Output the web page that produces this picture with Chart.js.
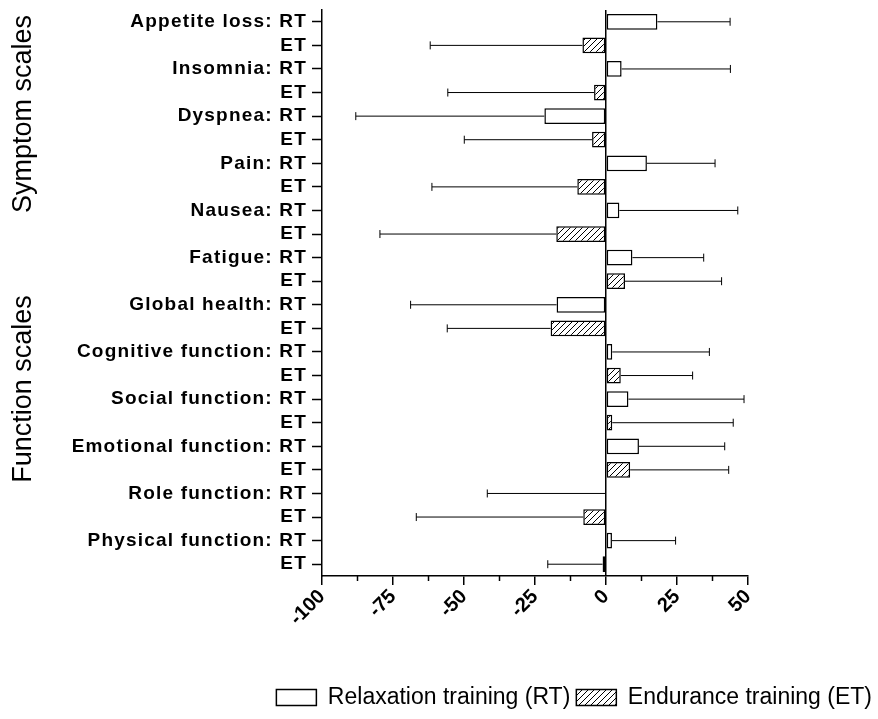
<!DOCTYPE html>
<html>
<head>
<meta charset="utf-8">
<script src="https://cdn.jsdelivr.net/npm/chart.js@4"></script>
<style>
  html, body { margin: 0; padding: 0; background: #fff; }
  #wrap { width: 878px; height: 719px; }
</style>
</head>
<body>
<div id="wrap"><canvas id="myChart" width="878" height="719"></canvas></div>
<script>
// QLQ-C30 scales, top to bottom
const scaleNames = ["Appetite loss", "Insomnia", "Dyspnea", "Pain", "Nausea", "Fatigue",
  "Global health", "Cognitive function", "Social function", "Emotional function",
  "Role function", "Physical function"];

// mean change and SD per scale
const rtMean = [18.1, 5.5, -21.7, 14.4, 4.7, 9.3, -17.4, 2.2, 7.9, 11.6, -0.3, 2.1];
const rtSD   = [25.6, 38.3, 66.4, 24.0, 41.7, 25.1, 51.4, 34.2, 40.7, 30.2, 41.5, 22.4];
const etMean = [-8.3, -4.2, -4.9, -10.1, -17.5, 6.7, -19.5, 5.2, 2.2, 8.5, -8.0, -1.2];
const etSD   = [53.6, 51.5, 45.0, 51.2, 62.1, 34.0, 36.4, 25.3, 42.6, 34.7, 58.8, 19.3];

const xTicks = [-100, -75, -50, -25, 0, 25, 50];

const FONT = "'Liberation Sans', Arial, sans-serif";

// two rows per scale: "<name>: RT" then "ET"
const labels = [];
const rtData = [], etData = [], rtErr = [], etErr = [];
scaleNames.forEach((name, i) => {
  labels.push(name + ": RT", "ET");
  rtData.push(rtMean[i], null);
  etData.push(null, etMean[i]);
  rtErr.push(rtSD[i], null);
  etErr.push(null, etSD[i]);
});

const ctx = document.getElementById("myChart").getContext("2d");

// diagonal hatch for the endurance training bars
const makeHatch = () => {
  const c = document.createElement("canvas");
  c.width = 6; c.height = 6;
  const g = c.getContext("2d");
  g.fillStyle = "#fff";
  g.fillRect(0, 0, 6, 6);
  g.strokeStyle = "#000";
  g.lineWidth = 1;
  g.beginPath();
  g.moveTo(0, 6); g.lineTo(6, 0);
  g.moveTo(-1, 1); g.lineTo(1, -1);
  g.moveTo(5, 7); g.lineTo(7, 5);
  g.stroke();
  return ctx.createPattern(c, "repeat");
};
const hatch = makeHatch();

// one-sided SD whiskers, pointing away from zero
const errorBars = {
  id: "errorBars",
  afterDatasetsDraw(chart) {
    const c = chart.ctx;
    const x = chart.scales.x;
    c.save();
    c.strokeStyle = "#000";
    c.lineWidth = 1;
    chart.data.datasets.forEach((ds, di) => {
      chart.getDatasetMeta(di).data.forEach((bar, i) => {
        const v = ds.data[i];
        if (v === null) return;
        const sd = ds.errors[i];
        const end = x.getPixelForValue(v < 0 ? v - sd : v + sd);
        c.beginPath();
        c.moveTo(bar.x, bar.y);
        c.lineTo(end, bar.y);
        c.moveTo(end, bar.y - 4);
        c.lineTo(end, bar.y + 4);
        c.stroke();
      });
    });
    c.restore();
    // y labels are drawn after this (ticks.z = 1), slightly tracked out
    c.letterSpacing = "1.2px";
  }
};

// minor x ticks and the two group titles on the left
const extras = {
  id: "extras",
  afterDraw(chart) {
    const c = chart.ctx, x = chart.scales.x, area = chart.chartArea;
    c.letterSpacing = "0px";
    c.save();
    c.strokeStyle = "#000";
    c.lineWidth = 1.5;
    for (let i = 0; i < xTicks.length - 1; i++) {
      const px = x.getPixelForValue((xTicks[i] + xTicks[i + 1]) / 2);
      c.beginPath();
      c.moveTo(px, area.bottom);
      c.lineTo(px, area.bottom + 5);
      c.stroke();
    }
    c.font = "27px " + FONT;
    c.fillStyle = "#000";
    c.textAlign = "center";
    c.textBaseline = "middle";
    [["Symptom scales", 114], ["Function scales", 389]].forEach(([t, y]) => {
      c.save();
      c.translate(24, y);
      c.rotate(-Math.PI / 2);
      c.fillText(t, 0, 0);
      c.restore();
    });
    c.restore();
  }
};

new Chart(ctx, {
  type: "bar",
  data: {
    labels: labels,
    datasets: [
      {
        label: "Relaxation training (RT)",
        data: rtData,
        errors: rtErr,
        backgroundColor: "#fff",
        borderColor: "#000",
        borderWidth: 1.5,
        borderSkipped: false,
        grouped: false,
        barPercentage: 0.67,
        categoryPercentage: 1
      },
      {
        label: "Endurance training (ET)",
        data: etData,
        errors: etErr,
        backgroundColor: hatch,
        borderColor: "#000",
        borderWidth: 1.5,
        borderSkipped: false,
        grouped: false,
        barPercentage: 0.67,
        categoryPercentage: 1
      }
    ]
  },
  options: {
    indexAxis: "y",
    responsive: false,
    animation: false,
    layout: { padding: { top: 10, left: 0, right: 0, bottom: 0 } },
    plugins: {
      legend: {
        position: "bottom",
        align: "end",
        labels: {
          color: "#000",
          font: { size: 23, family: FONT },
          boxWidth: 40,
          boxHeight: 16,
          padding: 6
        }
      },
      tooltip: { enabled: false }
    },
    scales: {
      x: {
        min: -100,
        max: 50,
        ticks: {
          stepSize: 25,
          minRotation: 45,
          maxRotation: 45,
          color: "#000",
          padding: 0,
          font: { size: 20, weight: "bold", family: FONT }
        },
        grid: {
          color: (c) => (c.tick && c.tick.value === 0 ? "#000" : "rgba(0,0,0,0)"),
          lineWidth: 1.5,
          tickColor: "#000",
          tickLength: 9,
          tickWidth: 1.5
        },
        border: { color: "#000", width: 1.5 },
        afterFit: (s) => { s.height = 104; }
      },
      y: {
        ticks: {
          autoSkip: false,
          color: "#000",
          padding: 5,
          z: 1,
          font: { size: 19, weight: "bold", family: FONT }
        },
        grid: {
          offset: false,
          drawOnChartArea: false,
          tickColor: "#000",
          tickLength: 10,
          tickWidth: 1.5
        },
        border: { color: "#000", width: 1.5 },
        afterFit: (s) => {
          s.width = 322;
          s.paddingTop = 0;
          s.paddingBottom = 0;
        }
      },
      // empty axis that keeps the plot clear of the right edge
      pad: {
        axis: "y",
        position: "right",
        ticks: { display: false },
        grid: { display: false },
        border: { display: false },
        afterFit: (s) => {
          s.width = 130;
          s.paddingTop = 0;
          s.paddingBottom = 0;
        }
      }
    }
  },
  plugins: [errorBars, extras]
});
</script>
</body>
</html>
